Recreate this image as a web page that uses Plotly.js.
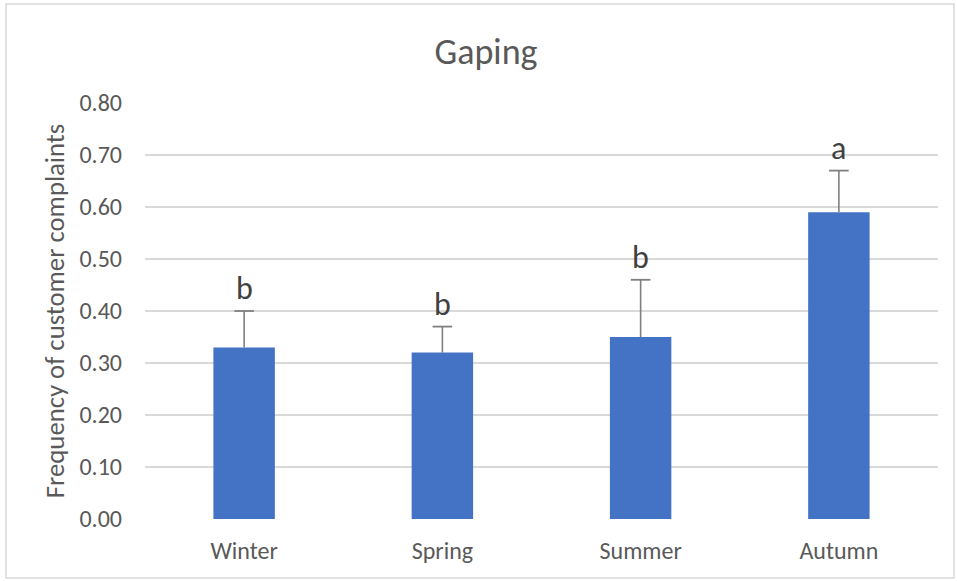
<!DOCTYPE html>
<html><head><meta charset="utf-8">
<script src="https://cdn.plot.ly/plotly-3.0.1.min.js"></script>
<style>html,body{margin:0;padding:0;background:#fff}#chart{width:957px;height:581px}</style>
</head><body><div id="chart"></div>
<script>
const seasons = ["Winter", "Spring", "Summer", "Autumn"];
const frequency = [0.33, 0.32, 0.35, 0.59];
const errorUpper = [0.07, 0.05, 0.11, 0.08];
const groupLetters = ["b", "b", "b", "a"];
const yTickVals = [0, 0.1, 0.2, 0.3, 0.4, 0.5, 0.6, 0.7, 0.8];
const yTickText = ["0.00", "0.10", "0.20", "0.30", "0.40", "0.50", "0.60", "0.70", "0.80"];

const W = 957, H = 581, mL = 145, mR = 19, mT = 103, mB = 62;
const pw = W - mL - mR, ph = H - mT - mB;
const font = "Carlito, Open Sans, Liberation Sans, sans-serif";
const errColor = "#7f7f7f";

const bars = {
  type: "bar", x: seasons, y: frequency,
  marker: {color: "#4472c4"},
  width: 0.31, hoverinfo: "none"
};

const errTop = frequency.map((f, i) => f + errorUpper[i]);
const errStems = {
  type: "scatter", mode: "lines",
  x: seasons.flatMap(s => [s, s, null]),
  y: frequency.flatMap((f, i) => [f, errTop[i], null]),
  line: {color: errColor, width: 1.6}, hoverinfo: "none", connectgaps: false
};
const errCaps = {
  type: "scatter", mode: "markers", x: seasons, y: errTop,
  marker: {symbol: "line-ew", size: 14, line: {color: errColor, width: 1.8}},
  hoverinfo: "none"
};

const annotations = seasons.map((s, i) => ({
  x: s, y: errTop[i], xref: "x", yref: "y",
  text: groupLetters[i], showarrow: false, yanchor: "bottom", yshift: 1,
  font: {family: font, size: 32, color: "#404040"}
}));

const layout = {
  width: W, height: H,
  margin: {l: mL, r: mR, t: mT, b: mB},
  paper_bgcolor: "#fff", plot_bgcolor: "#fff",
  title: {text: "Gaping", font: {family: font, size: 36, color: "#595959"}, x: 486 / W, xanchor: "center", y: 1 - 51/H, yanchor: "middle"},
  xaxis: {showline: false, showgrid: false, zeroline: false, ticks: "", ticklabelstandoff: 15,
          tickfont: {family: font, size: 24, color: "#595959"}},
  yaxis: {range: [0, 0.8], tickvals: yTickVals, ticktext: yTickText, showgrid: true, gridcolor: "#d9d9d9", gridwidth: 1.5,
          zeroline: false, showline: false, ticks: "", ticklabelstandoff: 22,
          tickfont: {family: font, size: 24, color: "#595959"},
          title: {text: "Frequency of customer complaints", font: {family: font, size: 26.7, color: "#595959"}, standoff: 7}},
  annotations: annotations,
  shapes: [{type: "rect", xref: "paper", yref: "paper",
            x0: (6 - mL) / pw, x1: (954 - mL) / pw, y0: (H - 578 - mB) / ph, y1: (H - 4 - mB) / ph,
            line: {color: "#d9d9d9", width: 1.5}}],
  showlegend: false
};

Plotly.newPlot("chart", [bars, errStems, errCaps], layout, {displayModeBar: false, staticPlot: true});
</script></body></html>
